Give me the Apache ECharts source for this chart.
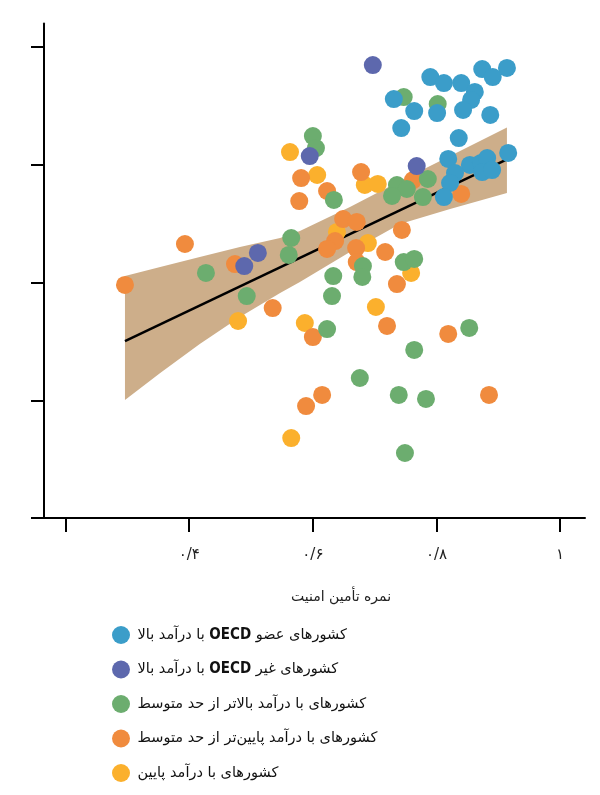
<!DOCTYPE html>
<html><head><meta charset="utf-8">
<script src="https://cdn.jsdelivr.net/npm/echarts@6/dist/echarts.min.js"></script>
<style>html,body{margin:0;padding:0;background:#fff}#c{width:600px;height:795px}</style>
</head><body><div id="c"></div>
<script>
// ---- data ----
const seriesNames = [
  'کشورهای عضو OECD با درآمد بالا',
  'کشورهای غیر OECD با درآمد بالا',
  'کشورهای با درآمد بالاتر از حد متوسط',
  'کشورهای با درآمد پایین‌تر از حد متوسط',
  'کشورهای با درآمد پایین'
];
const seriesColors = ['#3b9dc9', '#5d68ad', '#6cad6f', '#f08b3e', '#fbb02d'];

const oecdHigh = [[0.790,3.745],[0.812,3.694],[0.840,3.694],[0.874,3.813],[0.914,3.822],[0.891,3.745],[0.862,3.618],[0.856,3.550],[0.843,3.465],[0.731,3.558],[0.764,3.456],[0.801,3.439],[0.887,3.423],[0.743,3.312],[0.836,3.227],[0.916,3.100],[0.819,3.049],[0.854,2.998],[0.872,3.015],[0.882,3.057],[0.874,2.938],[0.890,2.955],[0.830,2.930],[0.822,2.845],[0.812,2.726]];
const nonOecdHigh = [[0.697,3.847],[0.595,3.074],[0.768,2.989],[0.511,2.251],[0.489,2.140]];
const upperMiddle = [[0.600,3.244],[0.605,3.142],[0.747,3.575],[0.802,3.516],[0.634,2.701],[0.565,2.378],[0.561,2.234],[0.736,2.828],[0.752,2.794],[0.728,2.735],[0.778,2.726],[0.786,2.879],[0.427,2.081],[0.493,1.885],[0.633,2.055],[0.681,2.140],[0.680,2.047],[0.747,2.174],[0.764,2.200],[0.631,1.885],[0.623,1.605],[0.853,1.614],[0.764,1.427],[0.676,1.189],[0.739,1.045],[0.783,1.011],[0.749,0.552]];
const lowerMiddle = [[0.296,1.979],[0.393,2.327],[0.474,2.157],[0.535,1.783],[0.581,2.887],[0.578,2.692],[0.623,2.777],[0.678,2.938],[0.762,2.870],[0.649,2.539],[0.671,2.514],[0.636,2.352],[0.623,2.285],[0.670,2.293],[0.671,2.174],[0.717,2.259],[0.744,2.446],[0.736,1.987],[0.840,2.752],[0.600,1.537],[0.720,1.631],[0.819,1.563],[0.615,1.045],[0.589,0.951],[0.885,1.045]];
const lowIncome = [[0.563,3.108],[0.607,2.913],[0.684,2.828],[0.705,2.837],[0.639,2.429],[0.689,2.335],[0.759,2.081],[0.702,1.792],[0.587,1.656],[0.479,1.673],[0.565,0.679]];

const fitX = [0.296, 0.914];
const fitY = [1.503, 3.045];
const bandX = [0.296,0.353,0.417,0.482,0.547,0.579,0.660,0.741,0.822,0.914];
const bandUpper = [2.055,2.132,2.217,2.302,2.378,2.437,2.641,2.862,3.074,3.317];
const bandLower = [1.002,1.231,1.478,1.707,1.911,2.004,2.259,2.497,2.624,2.760];

const xTickValues = [0.2, 0.4, 0.6, 0.8, 1.0];
const xTickLabels = ['', '۰/۴', '۰/۶', '۰/۸', '۱'];
const yTickValues = [0, 1, 2, 3, 4];
const xTitle = 'نمره تأمین امنیت';

// ---- helpers ----
// one rich token per word, placed right-to-left (natural Persian reading order)
function wordTokens(s) {
  return s.split(' ').filter(w => w).reverse()
    .map(w => w === 'OECD' ? '{b|OECD}' : '{a|' + w + '}').join('{s| }');
}

const groups = [oecdHigh, nonOecdHigh, upperMiddle, lowerMiddle, lowIncome];
const drawOrder = [4, 3, 2, 1, 0];

const scatterSeries = drawOrder.map(i => ({
  name: seriesNames[i],
  type: 'scatter',
  data: groups[i],
  symbol: 'circle',
  symbolSize: 18,
  itemStyle: { color: seriesColors[i], opacity: 1 },
  z: 5,
  silent: true
}));

const richBase = {
  a: { fontFamily: 'DejaVu Sans', fontSize: 14.5, color: '#111', lineHeight: 18 },
  s: { fontFamily: 'DejaVu Sans', fontSize: 14.5, color: '#111', lineHeight: 18 },
  b: { fontFamily: '"Liberation Sans Narrow", "DejaVu Sans Condensed", sans-serif', fontWeight: 'bold', fontSize: 15, color: '#111', lineHeight: 18 }
};

const chart = echarts.init(document.getElementById('c'), null, { renderer: 'canvas' });
chart.setOption({
  animation: false,
  backgroundColor: '#fff',
  grid: { left: 44, right: 15, top: 23.45, bottom: 277, containLabel: false, outerBoundsMode: 'none' },
  xAxis: {
    type: 'value', min: 0.165, max: 1.0403,
    axisLine: { show: true, onZero: false, lineStyle: { color: '#000', width: 2 } },
    axisTick: { show: true, customValues: xTickValues, length: 14, lineStyle: { color: '#000', width: 2 } },
    axisLabel: {
      show: true, customValues: xTickValues.slice(1), margin: 30,
      fontFamily: 'DejaVu Sans', fontSize: 15, color: '#222',
      formatter: v => { const k = xTickValues.findIndex(t => Math.abs(t - v) < 1e-6); return k >= 0 ? xTickLabels[k] : ''; }
    },
    splitLine: { show: false }
  },
  yAxis: {
    type: 'value', min: 0, max: 4.2,
    axisLine: { show: true, onZero: false, lineStyle: { color: '#000', width: 2 } },
    axisTick: { show: true, customValues: yTickValues, length: 13, lineStyle: { color: '#000', width: 2 } },
    axisLabel: { show: false },
    splitLine: { show: false }
  },
  legend: {
    data: seriesNames,
    orient: 'vertical', left: 112, top: 626, padding: 0,
    icon: 'circle', itemWidth: 23, itemHeight: 18, itemGap: 16.5,
    selectedMode: false,
    formatter: name => wordTokens(name),
    textStyle: { rich: richBase }
  },
  graphic: [{
    type: 'text', x: 341, y: 597,
    style: {
      text: wordTokens(xTitle),
      rich: { a: { fontFamily: 'DejaVu Sans', fontSize: 14, color: '#222' }, s: { fontFamily: 'DejaVu Sans', fontSize: 14, color: '#222' } },
      fill: '#222', align: 'center', verticalAlign: 'middle', textAlign: 'center', textVerticalAlign: 'middle'
    }
  }],
  series: [
    {
      type: 'custom', name: 'band', silent: true, z: 1,
      data: [0],
      renderItem: (params, api) => {
        const pts = [];
        for (let i = 0; i < bandX.length; i++) pts.push(api.coord([bandX[i], bandUpper[i]]));
        for (let i = bandX.length - 1; i >= 0; i--) pts.push(api.coord([bandX[i], bandLower[i]]));
        return { type: 'polygon', shape: { points: pts, smooth: 0 }, style: { fill: '#cdae8a' } };
      }
    },
    {
      type: 'line', name: 'fit', silent: true, z: 2,
      data: fitX.map((x, i) => [x, fitY[i]]),
      symbol: 'none', lineStyle: { color: '#000', width: 2.5 }
    }
  ].concat(scatterSeries)
});
</script></body></html>
